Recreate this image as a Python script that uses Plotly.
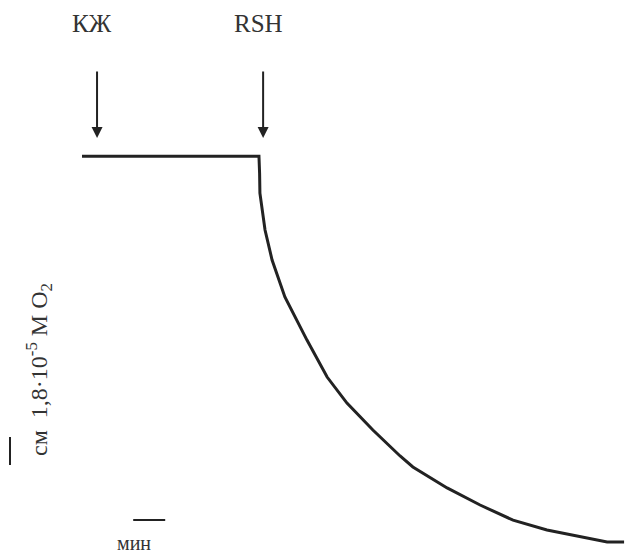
import plotly.graph_objects as go

# Oxygen trace (time in min, O2 level in recorder cm)
time_min = [0, 5.53, 5.55, 5.56, 5.72, 5.94, 6.34, 6.5, 7.03, 7.66, 8.28, 9.09, 9.94,
            10.34, 11.41, 12.44, 13.47, 14.53, 15.56, 16.41, 16.94]
o2_cm = [14.21, 14.21, 13.6, 12.89, 11.57, 10.5, 9.18, 8.82, 7.64, 6.32, 5.39, 4.43, 3.5,
         3.11, 2.36, 1.75, 1.21, 0.86, 0.61, 0.43, 0.43]

# Additions (arrows)
event_labels = ["КЖ", "RSH"]
event_times = [0.47, 5.66]

# Scale bars: 1 min horizontally, 1 cm vertically
time_bar_start = 1.6
time_bar_len = 1.0
time_bar_level = 1.21
cm_bar_time = -2.25
cm_bar_start = 3.18
cm_bar_len = 1.0

INK = "#222222"
TXT = "#333333"
FONT = "Liberation Serif, Times New Roman, serif"

fig = go.Figure()
fig.add_trace(go.Scatter(x=time_min, y=o2_cm, mode="lines",
                         line=dict(color=INK, width=3), hoverinfo="skip"))
fig.add_trace(go.Scatter(x=[time_bar_start, time_bar_start + time_bar_len],
                         y=[time_bar_level, time_bar_level], mode="lines",
                         line=dict(color=INK, width=2), hoverinfo="skip"))
fig.add_trace(go.Scatter(x=[cm_bar_time, cm_bar_time],
                         y=[cm_bar_start, cm_bar_start + cm_bar_len], mode="lines",
                         line=dict(color=INK, width=2), hoverinfo="skip"))

for lab, t in zip(event_labels, event_times):
    fig.add_annotation(x=t, y=14.86, ax=t, ay=17.29, xref="x", yref="y",
                       axref="x", ayref="y", text="", showarrow=True,
                       arrowhead=2, arrowsize=1.1, arrowwidth=2, arrowcolor=INK)
    fig.add_annotation(x=t, y=18.96, xref="x", yref="y", text=lab,
                       showarrow=False, xshift=-5,
                       font=dict(family=FONT, size=25, color=TXT))

fig.add_annotation(x=time_bar_start + 0.02, y=0.4, xref="x", yref="y", text="мин",
                   showarrow=False, font=dict(family=FONT, size=20, color=TXT))
fig.add_annotation(x=-1.35, y=6.6, xref="x", yref="y",
                   text="см&nbsp;&nbsp;1,8·10<sup>-5</sup> M O<sub>2</sub>",
                   textangle=-90, showarrow=False,
                   font=dict(family=FONT, size=24, color=TXT))

fig.update_layout(width=626, height=554, margin=dict(l=0, r=0, t=0, b=0),
                  paper_bgcolor="white", plot_bgcolor="white", showlegend=False,
                  xaxis=dict(range=[-2.5625, 17.0], visible=False),
                  yaxis=dict(range=[0, 19.786], visible=False))

fig.write_html("out.html", config={"displayModeBar": False},
               post_script="document.body.style.margin='0';document.body.style.overflow='hidden';")
